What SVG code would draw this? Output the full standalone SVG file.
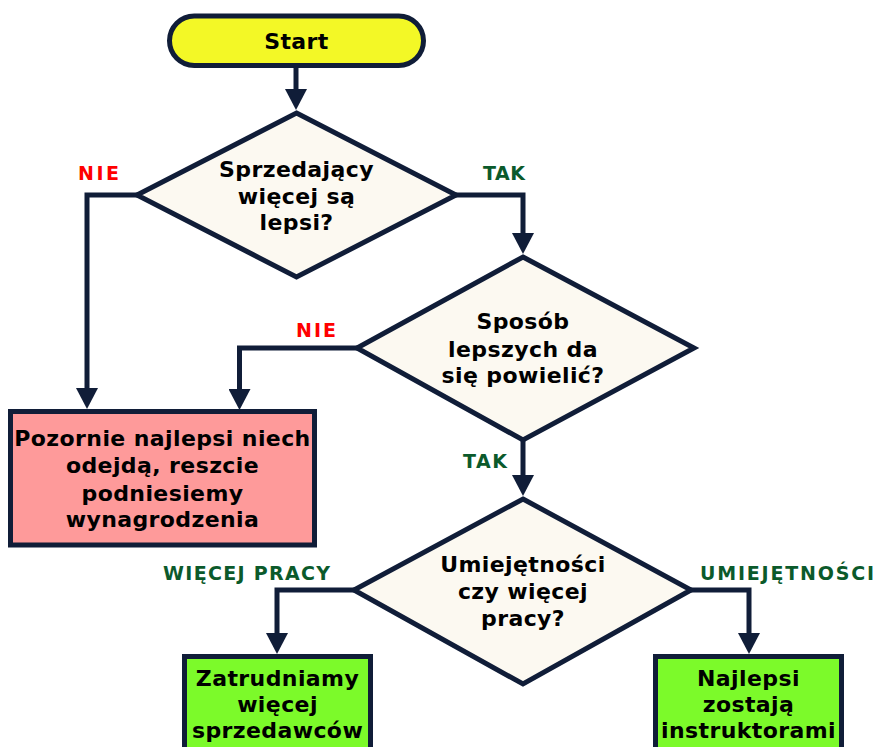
<svg xmlns="http://www.w3.org/2000/svg" width="874" height="747" viewBox="0 0 874 747">
  <defs>
    <style>
      .shape { stroke: #101d38; stroke-width: 5; stroke-linejoin: miter; }
      .start { fill: #f3f826; }
      .decision { fill: #fcf9f1; }
      .bad { fill: #fe9a9a; }
      .good { fill: #7cfa2a; }
      .txt { font-family: "DejaVu Sans", Verdana, sans-serif; font-weight: bold; font-size: 22px; letter-spacing: 0.4px; fill: #000; text-anchor: middle; }
      .lbl { font-family: "DejaVu Sans", Verdana, sans-serif; font-weight: bold; font-size: 19px; text-anchor: middle; }
      .no { fill: #ff0000; }
      .yes { fill: #0b5a2b; }
      .edge { fill: none; stroke: #101d38; stroke-width: 5; stroke-linejoin: miter; }
    </style>
    <marker id="arrow" markerUnits="userSpaceOnUse" markerWidth="22" markerHeight="22" refX="11" refY="11" orient="auto">
      <path d="M0,0 L21,11 L0,22 Z" fill="#101d38"/>
    </marker>
  </defs>

  <!-- connectors -->
  <g id="connectors">
    <path class="edge" d="M296,67 V100" marker-end="url(#arrow)"/>
    <path class="edge" d="M137,195 H87 V399" marker-end="url(#arrow)"/>
    <path class="edge" d="M456,195 H523 V244" marker-end="url(#arrow)"/>
    <path class="edge" d="M357,348 H239.5 V400" marker-end="url(#arrow)"/>
    <path class="edge" d="M523,440 V486" marker-end="url(#arrow)"/>
    <path class="edge" d="M354,590 H277 V644" marker-end="url(#arrow)"/>
    <path class="edge" d="M691,590 H749 V644" marker-end="url(#arrow)"/>
  </g>

  <!-- branch labels -->
  <g id="labels">
    <text class="lbl no" x="98.5" y="180" textLength="41">NIE</text>
    <text class="lbl yes" x="504" y="180" textLength="42">TAK</text>
    <text class="lbl no" x="316" y="337" textLength="40">NIE</text>
    <text class="lbl yes" x="485" y="468" textLength="44">TAK</text>
    <text class="lbl yes" x="246.5" y="580" textLength="167">WIĘCEJ PRACY</text>
    <text class="lbl yes" x="787" y="580" textLength="174">UMIEJĘTNOŚCI</text>
  </g>

  <g id="start">
    <rect class="shape start" x="169.5" y="16" width="254" height="49.5" rx="24.75"/>
    <text class="txt" x="296.5" y="49">Start</text>
  </g>

  <g id="q-sellers">
    <polygon class="shape decision" points="296.5,113 456,195 296.5,277 137,195"/>
    <text class="txt" x="296.5" y="177">Sprzedający</text>
    <text class="txt" x="296.5" y="204">więcej są</text>
    <text class="txt" x="296.5" y="230">lepsi?</text>
  </g>

  <g id="q-replicate">
    <polygon class="shape decision" points="523,257 694,348 523,440 357,348"/>
    <text class="txt" x="523" y="329">Sposób</text>
    <text class="txt" x="523" y="357">lepszych da</text>
    <text class="txt" x="523" y="383">się powielić?</text>
  </g>

  <g id="q-skills">
    <polygon class="shape decision" points="523,499 691,590 523,684 354,590"/>
    <text class="txt" x="523" y="572">Umiejętności</text>
    <text class="txt" x="523" y="599">czy więcej</text>
    <text class="txt" x="523" y="626">pracy?</text>
  </g>

  <g id="let-go">
    <rect class="shape bad" x="10.5" y="411.5" width="304" height="133.5"/>
    <text class="txt" x="162.5" y="446">Pozornie najlepsi niech</text>
    <text class="txt" x="162.5" y="473">odejdą, reszcie</text>
    <text class="txt" x="162.5" y="501">podniesiemy</text>
    <text class="txt" x="162.5" y="527">wynagrodzenia</text>
  </g>

  <g id="hire-more">
    <rect class="shape good" x="184.5" y="656.5" width="186" height="120"/>
    <text class="txt" x="277.5" y="686">Zatrudniamy</text>
    <text class="txt" x="277.5" y="712">więcej</text>
    <text class="txt" x="277.5" y="738">sprzedawców</text>
  </g>

  <g id="best-teach">
    <rect class="shape good" x="655.5" y="656.5" width="186" height="120"/>
    <text class="txt" x="748.5" y="686">Najlepsi</text>
    <text class="txt" x="748.5" y="712">zostają</text>
    <text class="txt" x="748.5" y="738">instruktorami</text>
  </g>
</svg>
